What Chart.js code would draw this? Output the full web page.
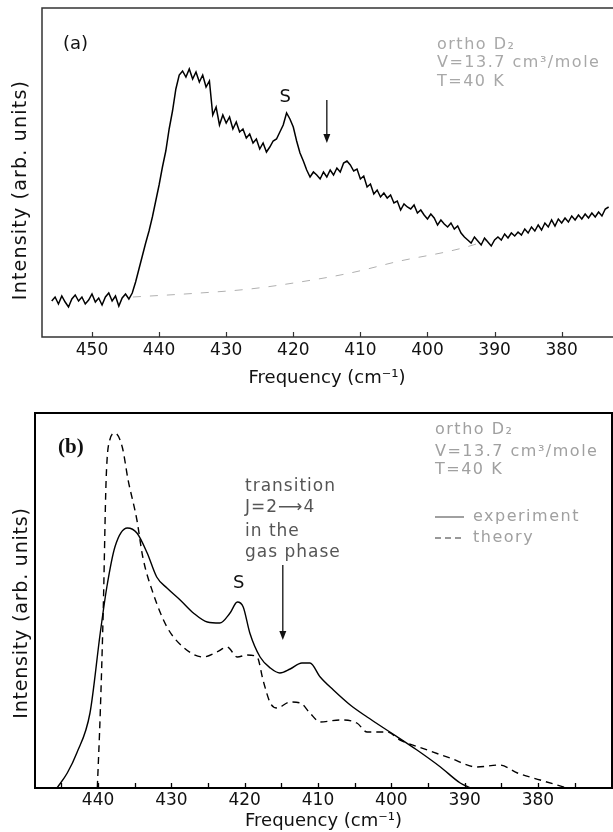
<!DOCTYPE html>
<html>
<head>
<meta charset="utf-8">
<script src="https://cdn.jsdelivr.net/npm/chart.js@4.4.1/dist/chart.umd.min.js"></script>
<style>
  html, body { margin: 0; padding: 0; background: #fff; }
  #wrap { position: relative; width: 613px; height: 832px; background: #fff; }
  #chartA { position: absolute; left: 0; top: 0; }
  #chartB { position: absolute; left: 0; top: 400px; }
</style>
</head>
<body>
<div id="wrap">
  <canvas id="chartA" width="613" height="400"></canvas>
  <canvas id="chartB" width="613" height="432"></canvas>
</div>
<script>
// ---- panel (a): measured spectrum, frequency in cm-1 ----
const freqA = [456,455.5,455,454.5,454,453.5,453,452.5,452,451.5,451,450.5,450,449.5,449,448.5,448,447.5,447,446.5,
  446,445.5,445,444.5,444,443.5,443,442.5,442,441.5,441,440.5,440,439.5,439,438.5,438,437.5,437,436.5,
  436,435.5,435,434.5,434,433.5,433,432.5,432,431.5,431,430.5,430,429.5,429,428.5,428,427.5,427,426.5,
  426,425.5,425,424.5,424,423.5,423,422.5,422,421.5,421,420.5,420,419.5,419,418.5,418,417.5,417,416.5,
  416,415.5,415,414.5,414,413.5,413,412.5,412,411.5,411,410.5,410,409.5,409,408.5,408,407.5,407,406.5,
  406,405.5,405,404.5,404,403.5,403,402.5,402,401.5,401,400.5,400,399.5,399,398.5,398,397.5,397,396.5,
  396,395.5,395,394.5,394,393.5,393,392.5,392,391.5,391,390.5,390,389.5,389,388.5,388,387.5,387,386.5,
  386,385.5,385,384.5,384,383.5,383,382.5,382,381.5,381,380.5,380,379.5,379,378.5,378,377.5,377,376.5,
  376,375.5,375,374.5,374,373.5,373];
const intA = [36,40,33,41,35,30,38,42,36,40,33,37,43,35,39,32,40,44,36,41,
  31,39,43,38,44,55,68,81,94,106,120,136,152,170,186,208,226,248,262,266,
  260,268,258,265,255,262,250,256,222,230,212,222,214,220,208,215,205,208,199,203,
  194,198,188,194,185,190,196,198,205,212,224,218,210,196,184,176,167,160,165,162,
  158,165,160,167,162,169,165,174,176,172,166,168,158,161,150,153,143,147,140,144,
  139,142,134,136,127,133,130,128,132,124,127,122,118,123,119,112,117,113,110,114,
  108,111,104,100,97,94,100,96,92,99,95,91,97,100,97,103,99,104,101,105,
  102,108,104,110,106,112,107,114,110,117,111,118,114,119,115,121,117,122,118,123,
  119,124,120,125,121,128,130];
// dashed background under the spectrum
const baseFreqA = [443.9, 433.9, 426.5, 419.0, 411.5, 404.1, 396.6, 393.2, 391.1];
const baseIntA  = [40, 44, 48, 55, 64, 76, 86, 92, 97];
const ticksA = [450, 440, 430, 420, 410, 400, 390, 380];

// ---- panel (b): experiment vs theory ----
const freqExpB = [445.6,444.2,442.9,441.1,439.7,438.8,437.7,436.0,434.7,433.3,432.0,430.6,428.8,427.0,425.1,423.4,
  422.0,421.0,420.2,419.3,417.9,416.5,415.2,413.8,412.2,411.1,409.7,407.9,405.6,403.3,400.2,396.5,393.3,390.6,389.2];
const intExpB = [0,15,35,75,155,201,241,260,255,235,211,200,188,175,166,165,
  175,186,181,155,131,120,115,119,125,125,111,98,83,71,56,38,21,5,0];
const freqThB = [440.1,439.7,439.3,438.9,438.4,437.7,436.7,435.9,434.7,433.9,432.5,430.6,428.4,425.7,423.8,422.4,
  421.0,419.7,418.3,417.5,416.5,415.6,413.8,412.4,411.1,409.7,407.0,404.7,403.3,400.6,398.8,395.1,392.0,388.3,
  385.2,382.8,379.7,376.0];
const intThB = [0,75,175,308,348,355,341,308,268,231,195,161,141,131,136,141,
  131,133,131,108,85,80,86,85,75,66,68,65,56,56,48,38,30,21,
  23,15,8,0];
const majorB = [440, 430, 420, 410, 400, 390, 380];
const minorB = [445, 435, 425, 415, 405, 395, 385, 375];

const FONT = '"DejaVu Sans", sans-serif';

function pts(xs, ys) { return xs.map((x, i) => ({ x: x, y: ys[i] })); }

function txt(ctx, s, x, y, font, color, spacing, align) {
  ctx.save();
  ctx.font = font;
  ctx.fillStyle = color;
  ctx.letterSpacing = (spacing || 0) + 'px';
  ctx.textAlign = align || 'left';
  ctx.textBaseline = 'middle';
  ctx.fillText(s, x, y);
  ctx.restore();
}

function downArrow(ctx, x, y1, y2) {
  ctx.save();
  ctx.strokeStyle = '#111';
  ctx.fillStyle = '#111';
  ctx.lineWidth = 1.3;
  ctx.beginPath();
  ctx.moveTo(x, y1);
  ctx.lineTo(x, y2 - 6);
  ctx.stroke();
  ctx.beginPath();
  ctx.moveTo(x - 3.5, y2 - 9);
  ctx.lineTo(x + 3.5, y2 - 9);
  ctx.lineTo(x, y2);
  ctx.closePath();
  ctx.fill();
  ctx.restore();
}

function innerTicks(ctx, chart, values, len) {
  const sx = chart.scales.x;
  const b = chart.chartArea.bottom;
  ctx.beginPath();
  values.forEach(v => {
    const px = Math.round(sx.getPixelForValue(v)) + 0.5;
    ctx.moveTo(px, b);
    ctx.lineTo(px, b - len);
  });
  ctx.stroke();
}

const decorA = {
  id: 'decorA',
  afterDraw(chart) {
    const ctx = chart.ctx;
    const a = chart.chartArea;
    const sx = chart.scales.x, sy = chart.scales.y;
    ctx.save();
    ctx.strokeStyle = '#333';
    ctx.lineWidth = 1.5;
    ctx.beginPath();
    ctx.moveTo(chart.width, a.top);
    ctx.lineTo(a.left, a.top);
    ctx.lineTo(a.left, a.bottom);
    ctx.lineTo(chart.width, a.bottom);
    ctx.stroke();
    ctx.lineWidth = 1.2;
    innerTicks(ctx, chart, ticksA, 5);
    ctx.restore();

    ctx.save();
    ctx.translate(21, 190);
    ctx.rotate(-Math.PI / 2);
    txt(ctx, 'Intensity (arb. units)', 0, 0, '19px ' + FONT, '#111', 1.2, 'center');
    ctx.restore();

    txt(ctx, '(a)', 63, 44, '18px ' + FONT, '#111', 0);
    txt(ctx, 'S', sx.getPixelForValue(421.2), sy.getPixelForValue(240), '18px ' + FONT, '#111', 0, 'center');
    downArrow(ctx, sx.getPixelForValue(415.0), sy.getPixelForValue(237), sy.getPixelForValue(194));

    const g = '#a8a8a8';
    txt(ctx, 'ortho D\u2082', 437, 45, '16px ' + FONT, g, 1.5);
    txt(ctx, 'V=13.7 cm\u00b3/mole', 437, 63, '16px ' + FONT, g, 1.5);
    txt(ctx, 'T=40 K', 437, 82, '16px ' + FONT, g, 1.5);
  }
};

const decorB = {
  id: 'decorB',
  afterDraw(chart) {
    const ctx = chart.ctx;
    const a = chart.chartArea;
    const sx = chart.scales.x, sy = chart.scales.y;
    ctx.save();
    ctx.strokeStyle = '#000';
    ctx.lineWidth = 2;
    ctx.strokeRect(a.left, a.top, a.right - a.left, a.bottom - a.top);
    ctx.lineWidth = 1.3;
    innerTicks(ctx, chart, majorB.concat(minorB), 5);
    ctx.restore();

    ctx.save();
    ctx.translate(22, 213);
    ctx.rotate(-Math.PI / 2);
    txt(ctx, 'Intensity (arb. units)', 0, 0, '19px ' + FONT, '#111', 0.8, 'center');
    ctx.restore();

    txt(ctx, '(b)', 58, 48, 'bold 21px "Liberation Serif", serif', '#111', 0);
    txt(ctx, 'S', sx.getPixelForValue(420.8), sy.getPixelForValue(205), '18px ' + FONT, '#111', 0, 'center');

    const t = '#555';
    txt(ctx, 'transition', 245, 87, '17px ' + FONT, t, 1);
    txt(ctx, 'J=2\u27f64', 245, 108, '17px ' + FONT, t, 1);
    txt(ctx, 'in the', 245, 132, '17px ' + FONT, t, 1);
    txt(ctx, 'gas phase', 245, 153, '17px ' + FONT, t, 1);
    downArrow(ctx, sx.getPixelForValue(414.8), sy.getPixelForValue(223), sy.getPixelForValue(148));

    const g = '#a0a0a0';
    txt(ctx, 'ortho D\u2082', 435, 30, '16px ' + FONT, g, 1.5);
    txt(ctx, 'V=13.7 cm\u00b3/mole', 435, 52, '16px ' + FONT, g, 1.5);
    txt(ctx, 'T=40 K', 435, 70, '16px ' + FONT, g, 1.5);

    // legend
    ctx.save();
    ctx.strokeStyle = '#777';
    ctx.lineWidth = 1.4;
    ctx.beginPath();
    ctx.moveTo(435, 117); ctx.lineTo(464, 117);
    ctx.stroke();
    ctx.setLineDash([6, 4]);
    ctx.beginPath();
    ctx.moveTo(435, 138); ctx.lineTo(464, 138);
    ctx.stroke();
    ctx.restore();
    txt(ctx, 'experiment', 473, 117, '16px ' + FONT, g, 1.5);
    txt(ctx, 'theory', 473, 138, '16px ' + FONT, g, 1.5);
  }
};

const chartA = new Chart(document.getElementById('chartA'), {
  type: 'line',
  data: {
    datasets: [
      {
        label: 'spectrum',
        data: pts(freqA, intA),
        borderColor: '#000',
        borderWidth: 1.5,
        pointRadius: 0,
        tension: 0
      },
      {
        label: 'background',
        data: pts(baseFreqA, baseIntA),
        borderColor: '#b0b0b0',
        borderWidth: 1,
        borderDash: [8, 9],
        pointRadius: 0,
        cubicInterpolationMode: 'monotone'
      }
    ]
  },
  options: {
    responsive: false,
    animation: false,
    layout: { padding: { left: 42, top: 8, right: 1, bottom: 0 } },
    plugins: { legend: { display: false }, tooltip: { enabled: false } },
    scales: {
      x: {
        type: 'linear',
        reverse: true,
        min: 372.5,
        max: 457.45,
        afterBuildTicks: s => { s.ticks = ticksA.map(v => ({ value: v })); },
        afterFit: s => { s.height = 63; },
        grid: { display: false, drawTicks: false },
        border: { display: false },
        ticks: { color: '#111', font: { family: FONT, size: 17 }, padding: 3, maxRotation: 0, autoSkip: false },
        title: { display: true, text: 'Frequency (cm\u207b\u00b9)', color: '#111',
                 font: { family: FONT, size: 18 }, padding: { top: 0, bottom: 11 } }
      },
      y: { display: false, min: 0, max: 329 }
    }
  },
  plugins: [decorA]
});

const chartB = new Chart(document.getElementById('chartB'), {
  type: 'line',
  data: {
    datasets: [
      {
        label: 'experiment',
        data: pts(freqExpB, intExpB),
        borderColor: '#000',
        borderWidth: 1.4,
        pointRadius: 0,
        cubicInterpolationMode: 'monotone'
      },
      {
        label: 'theory',
        data: pts(freqThB, intThB),
        borderColor: '#000',
        borderWidth: 1.4,
        borderDash: [7, 5],
        pointRadius: 0,
        cubicInterpolationMode: 'monotone'
      }
    ]
  },
  options: {
    responsive: false,
    animation: false,
    layout: { padding: { left: 35, top: 13, right: 1, bottom: 0 } },
    plugins: { legend: { display: false }, tooltip: { enabled: false } },
    scales: {
      x: {
        type: 'linear',
        reverse: true,
        min: 369.9,
        max: 448.6,
        afterBuildTicks: s => { s.ticks = majorB.concat(minorB).sort((p, q) => q - p).map(v => ({ value: v })); },
        afterFit: s => { s.height = 44; },
        grid: { display: false, drawTicks: false },
        border: { display: false },
        ticks: {
          color: '#111', font: { family: FONT, size: 17 }, padding: 2, maxRotation: 0, autoSkip: false,
          callback: v => majorB.includes(v) ? String(v) : ''
        },
        title: { display: true, text: 'Frequency (cm\u207b\u00b9)', color: '#111',
                 font: { family: FONT, size: 18 }, padding: { top: 0, bottom: 0 } }
      },
      y: { display: false, min: 0, max: 375 }
    }
  },
  plugins: [decorB]
});
</script>
</body>
</html>
